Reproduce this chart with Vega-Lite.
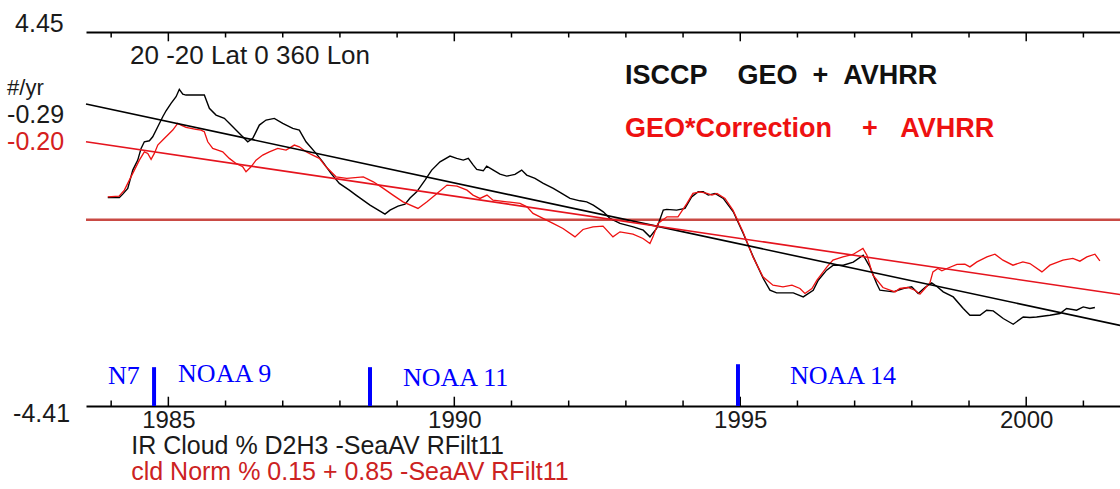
{
  "$schema": "https://vega.github.io/schema/vega-lite/v6.json",
  "width": 1034,
  "height": 374,
  "autosize": {"type": "none"},
  "padding": {"left": 86, "top": 32, "right": 0, "bottom": 83},
  "background": "white",
  "config": {"view": {"stroke": null}, "font": "Liberation Sans"},
  "datasets": {
    "series": [
      {"series": "ISCCP GEO + AVHRR", "year": 1983.941, "value": 0.531},
      {"series": "ISCCP GEO + AVHRR", "year": 1984.143, "value": 0.531},
      {"series": "ISCCP GEO + AVHRR", "year": 1984.203, "value": 0.609},
      {"series": "ISCCP GEO + AVHRR", "year": 1984.290, "value": 0.744},
      {"series": "ISCCP GEO + AVHRR", "year": 1984.378, "value": 1.178},
      {"series": "ISCCP GEO + AVHRR", "year": 1984.465, "value": 1.415},
      {"series": "ISCCP GEO + AVHRR", "year": 1984.523, "value": 1.693},
      {"series": "ISCCP GEO + AVHRR", "year": 1984.580, "value": 1.849},
      {"series": "ISCCP GEO + AVHRR", "year": 1984.668, "value": 1.873},
      {"series": "ISCCP GEO + AVHRR", "year": 1984.727, "value": 1.968},
      {"series": "ISCCP GEO + AVHRR", "year": 1984.815, "value": 2.205},
      {"series": "ISCCP GEO + AVHRR", "year": 1984.902, "value": 2.442},
      {"series": "ISCCP GEO + AVHRR", "year": 1984.960, "value": 2.584},
      {"series": "ISCCP GEO + AVHRR", "year": 1985.047, "value": 2.760},
      {"series": "ISCCP GEO + AVHRR", "year": 1985.135, "value": 2.916},
      {"series": "ISCCP GEO + AVHRR", "year": 1985.192, "value": 3.092},
      {"series": "ISCCP GEO + AVHRR", "year": 1985.252, "value": 2.980},
      {"series": "ISCCP GEO + AVHRR", "year": 1985.309, "value": 2.956},
      {"series": "ISCCP GEO + AVHRR", "year": 1985.629, "value": 2.956},
      {"series": "ISCCP GEO + AVHRR", "year": 1985.717, "value": 2.641},
      {"series": "ISCCP GEO + AVHRR", "year": 1985.834, "value": 2.482},
      {"series": "ISCCP GEO + AVHRR", "year": 1985.979, "value": 2.404},
      {"series": "ISCCP GEO + AVHRR", "year": 1986.096, "value": 2.245},
      {"series": "ISCCP GEO + AVHRR", "year": 1986.213, "value": 2.086},
      {"series": "ISCCP GEO + AVHRR", "year": 1986.301, "value": 1.968},
      {"series": "ISCCP GEO + AVHRR", "year": 1986.388, "value": 1.849},
      {"series": "ISCCP GEO + AVHRR", "year": 1986.476, "value": 1.930},
      {"series": "ISCCP GEO + AVHRR", "year": 1986.591, "value": 2.245},
      {"series": "ISCCP GEO + AVHRR", "year": 1986.708, "value": 2.364},
      {"series": "ISCCP GEO + AVHRR", "year": 1986.853, "value": 2.404},
      {"series": "ISCCP GEO + AVHRR", "year": 1987.000, "value": 2.286},
      {"series": "ISCCP GEO + AVHRR", "year": 1987.175, "value": 2.167},
      {"series": "ISCCP GEO + AVHRR", "year": 1987.290, "value": 2.127},
      {"series": "ISCCP GEO + AVHRR", "year": 1987.407, "value": 1.849},
      {"series": "ISCCP GEO + AVHRR", "year": 1987.582, "value": 1.574},
      {"series": "ISCCP GEO + AVHRR", "year": 1987.699, "value": 1.375},
      {"series": "ISCCP GEO + AVHRR", "year": 1987.844, "value": 1.100},
      {"series": "ISCCP GEO + AVHRR", "year": 1987.990, "value": 0.863},
      {"series": "ISCCP GEO + AVHRR", "year": 1988.164, "value": 0.704},
      {"series": "ISCCP GEO + AVHRR", "year": 1988.281, "value": 0.586},
      {"series": "ISCCP GEO + AVHRR", "year": 1988.526, "value": 0.349},
      {"series": "ISCCP GEO + AVHRR", "year": 1988.788, "value": 0.135},
      {"series": "ISCCP GEO + AVHRR", "year": 1988.876, "value": 0.230},
      {"series": "ISCCP GEO + AVHRR", "year": 1989.016, "value": 0.325},
      {"series": "ISCCP GEO + AVHRR", "year": 1989.138, "value": 0.372},
      {"series": "ISCCP GEO + AVHRR", "year": 1989.226, "value": 0.515},
      {"series": "ISCCP GEO + AVHRR", "year": 1989.343, "value": 0.664},
      {"series": "ISCCP GEO + AVHRR", "year": 1989.488, "value": 0.941},
      {"series": "ISCCP GEO + AVHRR", "year": 1989.605, "value": 1.178},
      {"series": "ISCCP GEO + AVHRR", "year": 1989.750, "value": 1.375},
      {"series": "ISCCP GEO + AVHRR", "year": 1989.925, "value": 1.510},
      {"series": "ISCCP GEO + AVHRR", "year": 1990.042, "value": 1.456},
      {"series": "ISCCP GEO + AVHRR", "year": 1990.157, "value": 1.415},
      {"series": "ISCCP GEO + AVHRR", "year": 1990.245, "value": 1.456},
      {"series": "ISCCP GEO + AVHRR", "year": 1990.332, "value": 1.297},
      {"series": "ISCCP GEO + AVHRR", "year": 1990.392, "value": 1.195},
      {"series": "ISCCP GEO + AVHRR", "year": 1990.507, "value": 1.162},
      {"series": "ISCCP GEO + AVHRR", "year": 1990.566, "value": 1.273},
      {"series": "ISCCP GEO + AVHRR", "year": 1990.682, "value": 1.178},
      {"series": "ISCCP GEO + AVHRR", "year": 1990.799, "value": 1.083},
      {"series": "ISCCP GEO + AVHRR", "year": 1990.916, "value": 1.036},
      {"series": "ISCCP GEO + AVHRR", "year": 1991.061, "value": 1.076},
      {"series": "ISCCP GEO + AVHRR", "year": 1991.178, "value": 1.178},
      {"series": "ISCCP GEO + AVHRR", "year": 1991.266, "value": 1.060},
      {"series": "ISCCP GEO + AVHRR", "year": 1991.411, "value": 0.982},
      {"series": "ISCCP GEO + AVHRR", "year": 1991.556, "value": 0.863},
      {"series": "ISCCP GEO + AVHRR", "year": 1991.731, "value": 0.745},
      {"series": "ISCCP GEO + AVHRR", "year": 1991.878, "value": 0.626},
      {"series": "ISCCP GEO + AVHRR", "year": 1992.023, "value": 0.507},
      {"series": "ISCCP GEO + AVHRR", "year": 1992.198, "value": 0.451},
      {"series": "ISCCP GEO + AVHRR", "year": 1992.315, "value": 0.427},
      {"series": "ISCCP GEO + AVHRR", "year": 1992.430, "value": 0.349},
      {"series": "ISCCP GEO + AVHRR", "year": 1992.605, "value": 0.190},
      {"series": "ISCCP GEO + AVHRR", "year": 1992.722, "value": 0.033},
      {"series": "ISCCP GEO + AVHRR", "year": 1992.897, "value": -0.085},
      {"series": "ISCCP GEO + AVHRR", "year": 1993.129, "value": -0.166},
      {"series": "ISCCP GEO + AVHRR", "year": 1993.304, "value": -0.244},
      {"series": "ISCCP GEO + AVHRR", "year": 1993.421, "value": -0.403},
      {"series": "ISCCP GEO + AVHRR", "year": 1993.538, "value": -0.204},
      {"series": "ISCCP GEO + AVHRR", "year": 1993.654, "value": 0.230},
      {"series": "ISCCP GEO + AVHRR", "year": 1993.713, "value": 0.247},
      {"series": "ISCCP GEO + AVHRR", "year": 1993.888, "value": 0.230},
      {"series": "ISCCP GEO + AVHRR", "year": 1994.033, "value": 0.270},
      {"series": "ISCCP GEO + AVHRR", "year": 1994.150, "value": 0.545},
      {"series": "ISCCP GEO + AVHRR", "year": 1994.266, "value": 0.664},
      {"series": "ISCCP GEO + AVHRR", "year": 1994.353, "value": 0.664},
      {"series": "ISCCP GEO + AVHRR", "year": 1994.441, "value": 0.586},
      {"series": "ISCCP GEO + AVHRR", "year": 1994.558, "value": 0.626},
      {"series": "ISCCP GEO + AVHRR", "year": 1994.703, "value": 0.507},
      {"series": "ISCCP GEO + AVHRR", "year": 1994.878, "value": 0.190},
      {"series": "ISCCP GEO + AVHRR", "year": 1995.052, "value": -0.322},
      {"series": "ISCCP GEO + AVHRR", "year": 1995.227, "value": -0.877},
      {"series": "ISCCP GEO + AVHRR", "year": 1995.402, "value": -1.389},
      {"series": "ISCCP GEO + AVHRR", "year": 1995.519, "value": -1.667},
      {"series": "ISCCP GEO + AVHRR", "year": 1995.636, "value": -1.731},
      {"series": "ISCCP GEO + AVHRR", "year": 1995.927, "value": -1.731},
      {"series": "ISCCP GEO + AVHRR", "year": 1996.101, "value": -1.826},
      {"series": "ISCCP GEO + AVHRR", "year": 1996.276, "value": -1.667},
      {"series": "ISCCP GEO + AVHRR", "year": 1996.364, "value": -1.430},
      {"series": "ISCCP GEO + AVHRR", "year": 1996.510, "value": -1.192},
      {"series": "ISCCP GEO + AVHRR", "year": 1996.626, "value": -1.074},
      {"series": "ISCCP GEO + AVHRR", "year": 1996.801, "value": -1.074},
      {"series": "ISCCP GEO + AVHRR", "year": 1996.976, "value": -1.003},
      {"series": "ISCCP GEO + AVHRR", "year": 1997.150, "value": -0.837},
      {"series": "ISCCP GEO + AVHRR", "year": 1997.267, "value": -1.114},
      {"series": "ISCCP GEO + AVHRR", "year": 1997.385, "value": -1.508},
      {"series": "ISCCP GEO + AVHRR", "year": 1997.442, "value": -1.667},
      {"series": "ISCCP GEO + AVHRR", "year": 1997.675, "value": -1.707},
      {"series": "ISCCP GEO + AVHRR", "year": 1997.850, "value": -1.626},
      {"series": "ISCCP GEO + AVHRR", "year": 1997.997, "value": -1.588},
      {"series": "ISCCP GEO + AVHRR", "year": 1998.112, "value": -1.745},
      {"series": "ISCCP GEO + AVHRR", "year": 1998.229, "value": -1.603},
      {"series": "ISCCP GEO + AVHRR", "year": 1998.346, "value": -1.494},
      {"series": "ISCCP GEO + AVHRR", "year": 1998.434, "value": -1.572},
      {"series": "ISCCP GEO + AVHRR", "year": 1998.549, "value": -1.707},
      {"series": "ISCCP GEO + AVHRR", "year": 1998.724, "value": -1.826},
      {"series": "ISCCP GEO + AVHRR", "year": 1998.899, "value": -2.101},
      {"series": "ISCCP GEO + AVHRR", "year": 1999.016, "value": -2.259},
      {"series": "ISCCP GEO + AVHRR", "year": 1999.191, "value": -2.259},
      {"series": "ISCCP GEO + AVHRR", "year": 1999.308, "value": -2.141},
      {"series": "ISCCP GEO + AVHRR", "year": 1999.423, "value": -2.157},
      {"series": "ISCCP GEO + AVHRR", "year": 1999.598, "value": -2.338},
      {"series": "ISCCP GEO + AVHRR", "year": 1999.773, "value": -2.473},
      {"series": "ISCCP GEO + AVHRR", "year": 1999.948, "value": -2.300},
      {"series": "ISCCP GEO + AVHRR", "year": 2000.065, "value": -2.314},
      {"series": "ISCCP GEO + AVHRR", "year": 2000.182, "value": -2.300},
      {"series": "ISCCP GEO + AVHRR", "year": 2000.414, "value": -2.259},
      {"series": "ISCCP GEO + AVHRR", "year": 2000.589, "value": -2.219},
      {"series": "ISCCP GEO + AVHRR", "year": 2000.706, "value": -2.101},
      {"series": "ISCCP GEO + AVHRR", "year": 2000.881, "value": -2.141},
      {"series": "ISCCP GEO + AVHRR", "year": 2000.997, "value": -2.063},
      {"series": "ISCCP GEO + AVHRR", "year": 2001.114, "value": -2.101},
      {"series": "ISCCP GEO + AVHRR", "year": 2001.201, "value": -2.077},
      {"series": "GEO*Correction + AVHRR", "year": 1983.941, "value": 0.545},
      {"series": "GEO*Correction + AVHRR", "year": 1984.138, "value": 0.562},
      {"series": "GEO*Correction + AVHRR", "year": 1984.231, "value": 0.704},
      {"series": "GEO*Correction + AVHRR", "year": 1984.318, "value": 0.941},
      {"series": "GEO*Correction + AVHRR", "year": 1984.406, "value": 1.178},
      {"series": "GEO*Correction + AVHRR", "year": 1984.493, "value": 1.415},
      {"series": "GEO*Correction + AVHRR", "year": 1984.580, "value": 1.612},
      {"series": "GEO*Correction + AVHRR", "year": 1984.640, "value": 1.574},
      {"series": "GEO*Correction + AVHRR", "year": 1984.698, "value": 1.432},
      {"series": "GEO*Correction + AVHRR", "year": 1984.755, "value": 1.574},
      {"series": "GEO*Correction + AVHRR", "year": 1984.815, "value": 1.771},
      {"series": "GEO*Correction + AVHRR", "year": 1984.902, "value": 1.890},
      {"series": "GEO*Correction + AVHRR", "year": 1984.990, "value": 2.008},
      {"series": "GEO*Correction + AVHRR", "year": 1985.077, "value": 2.127},
      {"series": "GEO*Correction + AVHRR", "year": 1985.164, "value": 2.286},
      {"series": "GEO*Correction + AVHRR", "year": 1985.222, "value": 2.245},
      {"series": "GEO*Correction + AVHRR", "year": 1985.309, "value": 2.191},
      {"series": "GEO*Correction + AVHRR", "year": 1985.484, "value": 2.143},
      {"series": "GEO*Correction + AVHRR", "year": 1985.572, "value": 2.127},
      {"series": "GEO*Correction + AVHRR", "year": 1985.629, "value": 2.086},
      {"series": "GEO*Correction + AVHRR", "year": 1985.689, "value": 1.849},
      {"series": "GEO*Correction + AVHRR", "year": 1985.776, "value": 1.693},
      {"series": "GEO*Correction + AVHRR", "year": 1985.864, "value": 1.652},
      {"series": "GEO*Correction + AVHRR", "year": 1985.951, "value": 1.612},
      {"series": "GEO*Correction + AVHRR", "year": 1986.066, "value": 1.456},
      {"series": "GEO*Correction + AVHRR", "year": 1986.184, "value": 1.337},
      {"series": "GEO*Correction + AVHRR", "year": 1986.301, "value": 1.257},
      {"series": "GEO*Correction + AVHRR", "year": 1986.358, "value": 1.138},
      {"series": "GEO*Correction + AVHRR", "year": 1986.446, "value": 1.257},
      {"series": "GEO*Correction + AVHRR", "year": 1986.533, "value": 1.415},
      {"series": "GEO*Correction + AVHRR", "year": 1986.650, "value": 1.534},
      {"series": "GEO*Correction + AVHRR", "year": 1986.766, "value": 1.612},
      {"series": "GEO*Correction + AVHRR", "year": 1986.913, "value": 1.693},
      {"series": "GEO*Correction + AVHRR", "year": 1987.058, "value": 1.652},
      {"series": "GEO*Correction + AVHRR", "year": 1987.203, "value": 1.771},
      {"series": "GEO*Correction + AVHRR", "year": 1987.290, "value": 1.731},
      {"series": "GEO*Correction + AVHRR", "year": 1987.407, "value": 1.612},
      {"series": "GEO*Correction + AVHRR", "year": 1987.524, "value": 1.534},
      {"series": "GEO*Correction + AVHRR", "year": 1987.640, "value": 1.456},
      {"series": "GEO*Correction + AVHRR", "year": 1987.757, "value": 1.257},
      {"series": "GEO*Correction + AVHRR", "year": 1987.932, "value": 1.019},
      {"series": "GEO*Correction + AVHRR", "year": 1988.119, "value": 0.982},
      {"series": "GEO*Correction + AVHRR", "year": 1988.409, "value": 1.019},
      {"series": "GEO*Correction + AVHRR", "year": 1988.584, "value": 0.901},
      {"series": "GEO*Correction + AVHRR", "year": 1988.759, "value": 0.745},
      {"series": "GEO*Correction + AVHRR", "year": 1988.928, "value": 0.586},
      {"series": "GEO*Correction + AVHRR", "year": 1989.103, "value": 0.427},
      {"series": "GEO*Correction + AVHRR", "year": 1989.365, "value": 0.270},
      {"series": "GEO*Correction + AVHRR", "year": 1989.523, "value": 0.427},
      {"series": "GEO*Correction + AVHRR", "year": 1989.698, "value": 0.626},
      {"series": "GEO*Correction + AVHRR", "year": 1989.872, "value": 0.823},
      {"series": "GEO*Correction + AVHRR", "year": 1990.047, "value": 0.799},
      {"series": "GEO*Correction + AVHRR", "year": 1990.222, "value": 0.704},
      {"series": "GEO*Correction + AVHRR", "year": 1990.327, "value": 0.586},
      {"series": "GEO*Correction + AVHRR", "year": 1990.449, "value": 0.507},
      {"series": "GEO*Correction + AVHRR", "year": 1990.572, "value": 0.586},
      {"series": "GEO*Correction + AVHRR", "year": 1990.677, "value": 0.467},
      {"series": "GEO*Correction + AVHRR", "year": 1990.921, "value": 0.427},
      {"series": "GEO*Correction + AVHRR", "year": 1991.149, "value": 0.389},
      {"series": "GEO*Correction + AVHRR", "year": 1991.271, "value": 0.308},
      {"series": "GEO*Correction + AVHRR", "year": 1991.376, "value": 0.152},
      {"series": "GEO*Correction + AVHRR", "year": 1991.551, "value": 0.033},
      {"series": "GEO*Correction + AVHRR", "year": 1991.726, "value": -0.085},
      {"series": "GEO*Correction + AVHRR", "year": 1991.900, "value": -0.204},
      {"series": "GEO*Correction + AVHRR", "year": 1992.110, "value": -0.403},
      {"series": "GEO*Correction + AVHRR", "year": 1992.250, "value": -0.228},
      {"series": "GEO*Correction + AVHRR", "year": 1992.425, "value": -0.166},
      {"series": "GEO*Correction + AVHRR", "year": 1992.600, "value": -0.149},
      {"series": "GEO*Correction + AVHRR", "year": 1992.774, "value": -0.403},
      {"series": "GEO*Correction + AVHRR", "year": 1992.897, "value": -0.284},
      {"series": "GEO*Correction + AVHRR", "year": 1993.124, "value": -0.339},
      {"series": "GEO*Correction + AVHRR", "year": 1993.299, "value": -0.441},
      {"series": "GEO*Correction + AVHRR", "year": 1993.421, "value": -0.560},
      {"series": "GEO*Correction + AVHRR", "year": 1993.474, "value": -0.403},
      {"series": "GEO*Correction + AVHRR", "year": 1993.561, "value": -0.085},
      {"series": "GEO*Correction + AVHRR", "year": 1993.719, "value": 0.071},
      {"series": "GEO*Correction + AVHRR", "year": 1993.911, "value": 0.071},
      {"series": "GEO*Correction + AVHRR", "year": 1994.068, "value": 0.389},
      {"series": "GEO*Correction + AVHRR", "year": 1994.173, "value": 0.626},
      {"series": "GEO*Correction + AVHRR", "year": 1994.295, "value": 0.664},
      {"series": "GEO*Correction + AVHRR", "year": 1994.418, "value": 0.626},
      {"series": "GEO*Correction + AVHRR", "year": 1994.505, "value": 0.586},
      {"series": "GEO*Correction + AVHRR", "year": 1994.593, "value": 0.626},
      {"series": "GEO*Correction + AVHRR", "year": 1994.733, "value": 0.507},
      {"series": "GEO*Correction + AVHRR", "year": 1994.872, "value": 0.230},
      {"series": "GEO*Correction + AVHRR", "year": 1995.047, "value": -0.284},
      {"series": "GEO*Correction + AVHRR", "year": 1995.222, "value": -0.877},
      {"series": "GEO*Correction + AVHRR", "year": 1995.397, "value": -1.351},
      {"series": "GEO*Correction + AVHRR", "year": 1995.572, "value": -1.548},
      {"series": "GEO*Correction + AVHRR", "year": 1995.747, "value": -1.588},
      {"series": "GEO*Correction + AVHRR", "year": 1995.904, "value": -1.548},
      {"series": "GEO*Correction + AVHRR", "year": 1996.044, "value": -1.626},
      {"series": "GEO*Correction + AVHRR", "year": 1996.131, "value": -1.745},
      {"series": "GEO*Correction + AVHRR", "year": 1996.253, "value": -1.626},
      {"series": "GEO*Correction + AVHRR", "year": 1996.341, "value": -1.430},
      {"series": "GEO*Correction + AVHRR", "year": 1996.516, "value": -1.114},
      {"series": "GEO*Correction + AVHRR", "year": 1996.621, "value": -0.955},
      {"series": "GEO*Correction + AVHRR", "year": 1996.795, "value": -0.877},
      {"series": "GEO*Correction + AVHRR", "year": 1996.970, "value": -0.820},
      {"series": "GEO*Correction + AVHRR", "year": 1997.145, "value": -0.678},
      {"series": "GEO*Correction + AVHRR", "year": 1997.215, "value": -0.837},
      {"series": "GEO*Correction + AVHRR", "year": 1997.320, "value": -1.311},
      {"series": "GEO*Correction + AVHRR", "year": 1997.495, "value": -1.603},
      {"series": "GEO*Correction + AVHRR", "year": 1997.705, "value": -1.707},
      {"series": "GEO*Correction + AVHRR", "year": 1997.792, "value": -1.626},
      {"series": "GEO*Correction + AVHRR", "year": 1997.932, "value": -1.603},
      {"series": "GEO*Correction + AVHRR", "year": 1998.054, "value": -1.667},
      {"series": "GEO*Correction + AVHRR", "year": 1998.142, "value": -1.762},
      {"series": "GEO*Correction + AVHRR", "year": 1998.229, "value": -1.626},
      {"series": "GEO*Correction + AVHRR", "year": 1998.316, "value": -1.494},
      {"series": "GEO*Correction + AVHRR", "year": 1998.369, "value": -1.233},
      {"series": "GEO*Correction + AVHRR", "year": 1998.456, "value": -1.152},
      {"series": "GEO*Correction + AVHRR", "year": 1998.526, "value": -1.209},
      {"series": "GEO*Correction + AVHRR", "year": 1998.614, "value": -1.152},
      {"series": "GEO*Correction + AVHRR", "year": 1998.788, "value": -1.057},
      {"series": "GEO*Correction + AVHRR", "year": 1998.928, "value": -1.050},
      {"series": "GEO*Correction + AVHRR", "year": 1999.016, "value": -1.114},
      {"series": "GEO*Correction + AVHRR", "year": 1999.138, "value": -0.996},
      {"series": "GEO*Correction + AVHRR", "year": 1999.313, "value": -0.877},
      {"series": "GEO*Correction + AVHRR", "year": 1999.453, "value": -0.813},
      {"series": "GEO*Correction + AVHRR", "year": 1999.593, "value": -0.955},
      {"series": "GEO*Correction + AVHRR", "year": 1999.768, "value": -1.074},
      {"series": "GEO*Correction + AVHRR", "year": 1999.942, "value": -0.996},
      {"series": "GEO*Correction + AVHRR", "year": 2000.065, "value": -1.034},
      {"series": "GEO*Correction + AVHRR", "year": 2000.275, "value": -1.233},
      {"series": "GEO*Correction + AVHRR", "year": 2000.414, "value": -1.074},
      {"series": "GEO*Correction + AVHRR", "year": 2000.642, "value": -0.955},
      {"series": "GEO*Correction + AVHRR", "year": 2000.816, "value": -0.915},
      {"series": "GEO*Correction + AVHRR", "year": 2000.939, "value": -0.979},
      {"series": "GEO*Correction + AVHRR", "year": 2001.061, "value": -0.877},
      {"series": "GEO*Correction + AVHRR", "year": 2001.201, "value": -0.813},
      {"series": "GEO*Correction + AVHRR", "year": 2001.288, "value": -0.972}
    ],
    "trend": [
      {"series": "ISCCP GEO + AVHRR", "year": 1983.56, "value": 2.743},
      {"series": "ISCCP GEO + AVHRR", "year": 2001.64, "value": -2.50},
      {"series": "GEO*Correction + AVHRR", "year": 1983.56, "value": 1.85},
      {"series": "GEO*Correction + AVHRR", "year": 2001.64, "value": -1.77}
    ],
    "yearTicks": [
      {"year": 1984, "edge": -4.41, "inner": -4.28}, {"year": 1985, "edge": -4.41, "inner": -4.19},
      {"year": 1986, "edge": -4.41, "inner": -4.28}, {"year": 1987, "edge": -4.41, "inner": -4.28},
      {"year": 1988, "edge": -4.41, "inner": -4.28}, {"year": 1989, "edge": -4.41, "inner": -4.28},
      {"year": 1990, "edge": -4.41, "inner": -4.19}, {"year": 1991, "edge": -4.41, "inner": -4.28},
      {"year": 1992, "edge": -4.41, "inner": -4.28}, {"year": 1993, "edge": -4.41, "inner": -4.28},
      {"year": 1994, "edge": -4.41, "inner": -4.28}, {"year": 1995, "edge": -4.41, "inner": -4.19},
      {"year": 1996, "edge": -4.41, "inner": -4.28}, {"year": 1997, "edge": -4.41, "inner": -4.28},
      {"year": 1998, "edge": -4.41, "inner": -4.28}, {"year": 1999, "edge": -4.41, "inner": -4.28},
      {"year": 2000, "edge": -4.41, "inner": -4.19}, {"year": 2001, "edge": -4.41, "inner": -4.28},
      {"year": 1984, "edge": 4.45, "inner": 4.32}, {"year": 1985, "edge": 4.45, "inner": 4.23},
      {"year": 1986, "edge": 4.45, "inner": 4.32}, {"year": 1987, "edge": 4.45, "inner": 4.32},
      {"year": 1988, "edge": 4.45, "inner": 4.32}, {"year": 1989, "edge": 4.45, "inner": 4.32},
      {"year": 1990, "edge": 4.45, "inner": 4.23}, {"year": 1991, "edge": 4.45, "inner": 4.32},
      {"year": 1992, "edge": 4.45, "inner": 4.32}, {"year": 1993, "edge": 4.45, "inner": 4.32},
      {"year": 1994, "edge": 4.45, "inner": 4.32}, {"year": 1995, "edge": 4.45, "inner": 4.23},
      {"year": 1996, "edge": 4.45, "inner": 4.32}, {"year": 1997, "edge": 4.45, "inner": 4.32},
      {"year": 1998, "edge": 4.45, "inner": 4.32}, {"year": 1999, "edge": 4.45, "inner": 4.32},
      {"year": 2000, "edge": 4.45, "inner": 4.23}, {"year": 2001, "edge": 4.45, "inner": 4.32}
    ],
    "satellites": [
      {"satellite": "NOAA 9", "year": 1984.75, "top": -3.49, "bottom": -4.41},
      {"satellite": "NOAA 11", "year": 1988.526, "top": -3.49, "bottom": -4.41},
      {"satellite": "NOAA 14", "year": 1994.96, "top": -3.42, "bottom": -4.41}
    ],
    "satLabels": [
      {"text": "N7", "year": 1983.946, "value": -3.705},
      {"text": "NOAA 9", "year": 1985.17, "value": -3.658},
      {"text": "NOAA 11", "year": 1989.103, "value": -3.753},
      {"text": "NOAA 14", "year": 1995.868, "value": -3.705}
    ],
    "yLabels": [
      {"text": "4.45", "year": 1982.32, "value": 4.628},
      {"text": "-4.41", "year": 1982.285, "value": -4.606},
      {"text": "-0.29", "year": 1982.18, "value": 2.482}
    ],
    "unitLabel": [
      {"text": "#/yr", "year": 1982.18, "value": 3.12}
    ],
    "yLabelsRed": [
      {"text": "-0.20", "year": 1982.18, "value": 1.854}
    ],
    "region": [
      {"text": "20 -20 Lat 0 360 Lon", "year": 1984.33, "value": 3.881}
    ],
    "legendBlack": [
      {"text": "ISCCP\u00a0\u00a0\u00a0\u00a0GEO\u00a0\u00a0+\u00a0\u00a0AVHRR", "year": 1992.984, "value": 3.407}
    ],
    "legendRed": [
      {"text": "GEO*Correction\u00a0\u00a0\u00a0\u00a0+\u00a0\u00a0\u00a0AVHRR", "year": 1992.984, "value": 2.15}
    ],
    "footBlack": [
      {"text": "IR Cloud % D2H3 -SeaAV RFilt11", "year": 1984.35, "value": -5.365}
    ],
    "footRed": [
      {"text": "cld Norm % 0.15 + 0.85 -SeaAV RFilt11", "year": 1984.35, "value": -5.981}
    ],
    "baseline": [{"value": 0}]
  },
  "resolve": {"axis": {"x": "independent"}},
  "layer": [
    {
      "data": {"name": "baseline"},
      "mark": {"type": "rule", "color": "#c94a44", "strokeWidth": 2.5},
      "encoding": {
        "y": {"field": "value", "type": "quantitative",
              "scale": {"domain": [-4.41, 4.45], "nice": false, "zero": false},
              "axis": {"orient": "left", "ticks": false, "labels": false, "grid": false, "title": null, "domainColor": "black", "domainWidth": 2}}
      }
    },
    {
      "data": {"name": "series"},
      "transform": [{"filter": "datum.series === 'ISCCP GEO + AVHRR'"}],
      "mark": {"type": "line", "color": "black", "strokeWidth": 1.4},
      "encoding": {
        "x": {"field": "year", "type": "quantitative",
              "scale": {"domain": [1983.56, 2001.64], "nice": false, "zero": false},
              "axis": {"orient": "bottom", "values": [1985, 1990, 1995, 2000],
                       "format": "d", "ticks": false,
                       "domainColor": "black", "domainWidth": 2,
                       "labelFontSize": 24, "labelColor": "#1a1a1a", "labelPadding": 2, "labelFlush": false, "labelOverlap": false,
                       "grid": false, "title": null}},
        "y": {"field": "value", "type": "quantitative", "scale": {"domain": [-4.41, 4.45], "nice": false, "zero": false}, "axis": null}
      }
    },
    {
      "data": {"name": "series"},
      "transform": [{"filter": "datum.series === 'GEO*Correction + AVHRR'"}],
      "mark": {"type": "line", "color": "#ee1111", "strokeWidth": 1.3},
      "encoding": {
        "x": {"field": "year", "type": "quantitative",
              "scale": {"domain": [1983.56, 2001.64], "nice": false, "zero": false},
              "axis": {"orient": "top", "ticks": false, "labels": false,
                       "domainColor": "black", "domainWidth": 2, "grid": false, "title": null}},
        "y": {"field": "value", "type": "quantitative", "scale": {"domain": [-4.41, 4.45], "nice": false, "zero": false}, "axis": null}
      }
    },
    {
      "data": {"name": "trend"},
      "mark": {"type": "line", "strokeWidth": 1.6},
      "encoding": {
        "x": {"field": "year", "type": "quantitative", "scale": {"domain": [1983.56, 2001.64], "nice": false, "zero": false}, "axis": null},
        "y": {"field": "value", "type": "quantitative", "scale": {"domain": [-4.41, 4.45], "nice": false, "zero": false}, "axis": null},
        "color": {"field": "series", "type": "nominal",
                  "scale": {"domain": ["ISCCP GEO + AVHRR", "GEO*Correction + AVHRR"], "range": ["black", "#e5141e"]},
                  "legend": null}
      }
    },
    {
      "data": {"name": "yearTicks"},
      "mark": {"type": "rule", "color": "black", "strokeWidth": 1.5},
      "encoding": {
        "x": {"field": "year", "type": "quantitative", "scale": {"domain": [1983.56, 2001.64], "nice": false, "zero": false}, "axis": null},
        "y": {"field": "edge", "type": "quantitative", "scale": {"domain": [-4.41, 4.45], "nice": false, "zero": false}, "axis": null},
        "y2": {"field": "inner"}
      }
    },
    {
      "data": {"name": "satellites"},
      "mark": {"type": "rule", "color": "#0000ff", "strokeWidth": 4},
      "encoding": {
        "x": {"field": "year", "type": "quantitative", "scale": {"domain": [1983.56, 2001.64], "nice": false, "zero": false}, "axis": null},
        "y": {"field": "top", "type": "quantitative", "scale": {"domain": [-4.41, 4.45], "nice": false, "zero": false}, "axis": null},
        "y2": {"field": "bottom"}
      }
    },
    {
      "data": {"name": "satLabels"},
      "mark": {"type": "text", "color": "#0000ff", "font": "Liberation Serif", "fontSize": 26, "align": "left", "baseline": "middle"},
      "encoding": {
        "x": {"field": "year", "type": "quantitative", "scale": {"domain": [1983.56, 2001.64], "nice": false, "zero": false}, "axis": null},
        "y": {"field": "value", "type": "quantitative", "scale": {"domain": [-4.41, 4.45], "nice": false, "zero": false}, "axis": null},
        "text": {"field": "text"}
      }
    },
    {
      "data": {"name": "yLabels"},
      "mark": {"type": "text", "color": "#1a1a1a", "font": "Liberation Sans", "fontSize": 25, "align": "left", "baseline": "middle"},
      "encoding": {
        "x": {"field": "year", "type": "quantitative", "scale": {"domain": [1983.56, 2001.64], "nice": false, "zero": false}, "axis": null},
        "y": {"field": "value", "type": "quantitative", "scale": {"domain": [-4.41, 4.45], "nice": false, "zero": false}, "axis": null},
        "text": {"field": "text"}
      }
    },
    {
      "data": {"name": "unitLabel"},
      "mark": {"type": "text", "color": "#1a1a1a", "font": "Liberation Sans", "fontSize": 22, "align": "left", "baseline": "middle"},
      "encoding": {
        "x": {"field": "year", "type": "quantitative", "scale": {"domain": [1983.56, 2001.64], "nice": false, "zero": false}, "axis": null},
        "y": {"field": "value", "type": "quantitative", "scale": {"domain": [-4.41, 4.45], "nice": false, "zero": false}, "axis": null},
        "text": {"field": "text"}
      }
    },
    {
      "data": {"name": "yLabelsRed"},
      "mark": {"type": "text", "color": "#d42020", "font": "Liberation Sans", "fontSize": 25, "align": "left", "baseline": "middle"},
      "encoding": {
        "x": {"field": "year", "type": "quantitative", "scale": {"domain": [1983.56, 2001.64], "nice": false, "zero": false}, "axis": null},
        "y": {"field": "value", "type": "quantitative", "scale": {"domain": [-4.41, 4.45], "nice": false, "zero": false}, "axis": null},
        "text": {"field": "text"}
      }
    },
    {
      "data": {"name": "region"},
      "mark": {"type": "text", "color": "#1a1a1a", "font": "Liberation Sans", "fontSize": 26, "align": "left", "baseline": "middle"},
      "encoding": {
        "x": {"field": "year", "type": "quantitative", "scale": {"domain": [1983.56, 2001.64], "nice": false, "zero": false}, "axis": null},
        "y": {"field": "value", "type": "quantitative", "scale": {"domain": [-4.41, 4.45], "nice": false, "zero": false}, "axis": null},
        "text": {"field": "text"}
      }
    },
    {
      "data": {"name": "legendBlack"},
      "mark": {"type": "text", "color": "#111111", "font": "Liberation Sans", "fontWeight": "bold", "fontSize": 27, "align": "left", "baseline": "middle"},
      "encoding": {
        "x": {"field": "year", "type": "quantitative", "scale": {"domain": [1983.56, 2001.64], "nice": false, "zero": false}, "axis": null},
        "y": {"field": "value", "type": "quantitative", "scale": {"domain": [-4.41, 4.45], "nice": false, "zero": false}, "axis": null},
        "text": {"field": "text"}
      }
    },
    {
      "data": {"name": "legendRed"},
      "mark": {"type": "text", "color": "#ee1111", "font": "Liberation Sans", "fontWeight": "bold", "fontSize": 27, "align": "left", "baseline": "middle"},
      "encoding": {
        "x": {"field": "year", "type": "quantitative", "scale": {"domain": [1983.56, 2001.64], "nice": false, "zero": false}, "axis": null},
        "y": {"field": "value", "type": "quantitative", "scale": {"domain": [-4.41, 4.45], "nice": false, "zero": false}, "axis": null},
        "text": {"field": "text"}
      }
    },
    {
      "data": {"name": "footBlack"},
      "mark": {"type": "text", "color": "#1a1a1a", "font": "Liberation Sans", "fontSize": 25, "align": "left", "baseline": "middle"},
      "encoding": {
        "x": {"field": "year", "type": "quantitative", "scale": {"domain": [1983.56, 2001.64], "nice": false, "zero": false}, "axis": null},
        "y": {"field": "value", "type": "quantitative", "scale": {"domain": [-4.41, 4.45], "nice": false, "zero": false}, "axis": null},
        "text": {"field": "text"}
      }
    },
    {
      "data": {"name": "footRed"},
      "mark": {"type": "text", "color": "#cc2222", "font": "Liberation Sans", "fontSize": 25, "align": "left", "baseline": "middle"},
      "encoding": {
        "x": {"field": "year", "type": "quantitative", "scale": {"domain": [1983.56, 2001.64], "nice": false, "zero": false}, "axis": null},
        "y": {"field": "value", "type": "quantitative", "scale": {"domain": [-4.41, 4.45], "nice": false, "zero": false}, "axis": null},
        "text": {"field": "text"}
      }
    }
  ]
}
